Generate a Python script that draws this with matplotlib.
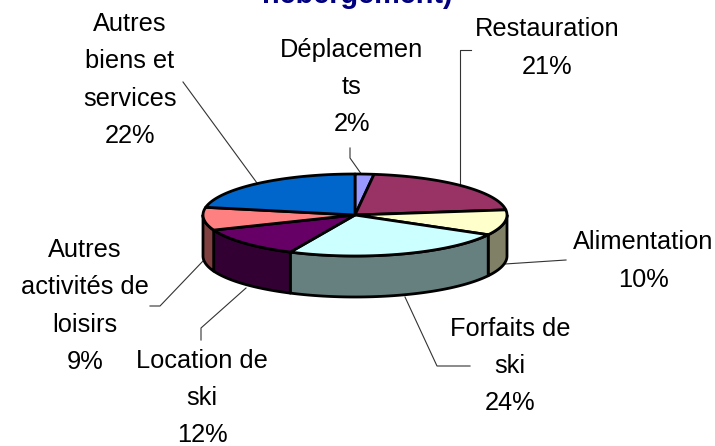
import numpy as np
import matplotlib
matplotlib.use('Agg')
import matplotlib.pyplot as plt
from matplotlib.patches import Polygon

plt.rcParams['font.family'] = ['Liberation Sans', 'DejaVu Sans']

labels = ['Déplacemen\nts\n2%', 'Restauration\n21%', 'Alimentation\n10%', 'Forfaits de\nski\n24%',
          'Location de\nski\n12%', 'Autres\nactivités de\nloisirs\n9%', 'Autres\nbiens et\nservices\n22%']
shares = [2, 21, 10, 24, 12, 9, 22]
top_colors = ['#9999FF', '#993366', '#FFFFCC', '#CCFFFF', '#660066', '#FF8080', '#0066CC']
side_colors = ['#4C4C80', '#4D1A33', '#808066', '#668080', '#330033', '#804040', '#003366']
label_x = [352, 547, 643, 510, 202, 85, 130]
label_y = [87, 48, 261, 366, 398, 306, 80]
leaders = [
    [(350, 148), (350, 158), (362, 175)],
    [(471, 50), (460, 50), (460, 186)],
    [(505, 264), (566, 260)],
    [(405, 297), (437, 366), (470, 366)],
    [(246, 288), (201, 328), (201, 340)],
    [(203, 261), (160, 306), (150, 306)],
    [(183, 82), (257, 183)],
]

cx, cy, rx, ry, depth = 355, 215, 152, 41, 41


def rim(a, b):
    t = np.radians(np.linspace(a, b, 60))
    return cx + rx * np.sin(t), cy - ry * np.cos(t)


fig = plt.figure(figsize=(7.15, 4.46), dpi=100)
ax = fig.add_axes([0, 0, 1, 1])
ax.set_xlim(0, 715)
ax.set_ylim(446, 0)
ax.axis('off')

edges = np.cumsum([0] + shares) * 3.6

# pie sides first, only the front half shows
for a, b, col in zip(edges[:-1], edges[1:], side_colors):
    a2, b2 = max(a, 90), min(b, 270)
    if a2 >= b2:
        continue
    x, y = rim(a2, b2)
    pts = np.r_[np.c_[x, y], np.c_[x[::-1], y[::-1] + depth]]
    ax.add_patch(Polygon(pts, fc=col, ec='black', lw=2, joinstyle='round', zorder=2))

for a, b, col in zip(edges[:-1], edges[1:], top_colors):
    x, y = rim(a, b)
    pts = np.r_[[(cx, cy)], np.c_[x, y]]
    ax.add_patch(Polygon(pts, fc=col, ec='black', lw=2, joinstyle='round', zorder=3))

for pts in leaders:
    xs, ys = zip(*pts)
    ax.plot(xs, ys, color='#333333', lw=0.8, zorder=1)

for name, x, y in zip(labels, label_x, label_y):
    ax.text(x, y, name, ha='center', va='center', fontsize=18.3, linespacing=1.7, color='black')

ax.text(357, 3, 'hébergement)', ha='center', va='baseline', fontsize=20.8, fontweight='bold', color='#000080')

fig.savefig('out.png', dpi=100)
